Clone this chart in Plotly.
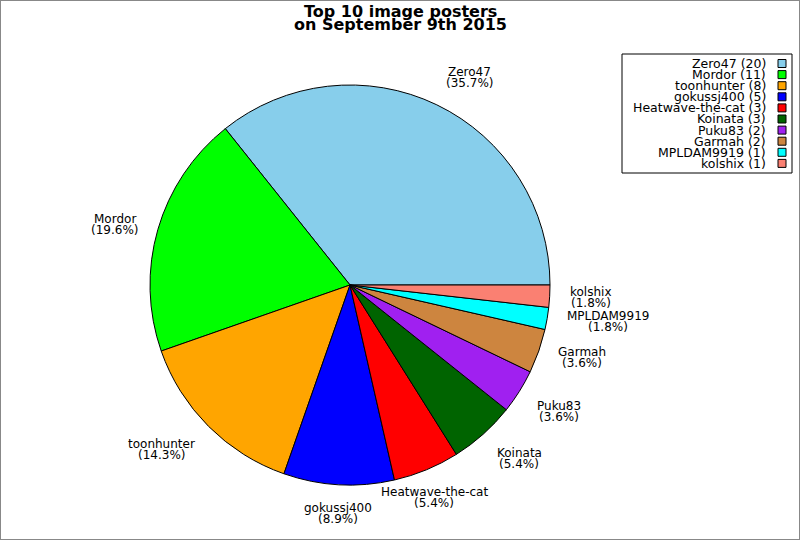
import math
import plotly.graph_objects as go

names = ["Zero47", "Mordor", "toonhunter", "gokussj400", "Heatwave-the-cat",
         "Koinata", "Puku83", "Garmah", "MPLDAM9919", "kolshix"]
counts = [20, 11, 8, 5, 3, 3, 2, 2, 1, 1]
colors = ["#87CEEB", "#00FF00", "#FFA500", "#0000FF", "#FF0000",
          "#006400", "#A020F0", "#CD853F", "#00FFFF", "#FA8072"]
title_lines = ["Top 10 image posters", "on September 9th 2015"]

W, H = 800, 540
CX, CY, R = 350, 285, 200
FONT = "DejaVu Sans"
LABEL_SIZE = 12
LEGEND_SIZE = 12.5
total = sum(counts)

# approximate DejaVu Sans advance widths (units per em = 2048), used to
# centre the two lines of each slice label within their block
_ADV = {" ": 651, "%": 1946, "(": 799, ")": 799, "-": 739, ".": 651,
        "A": 1401, "D": 1577, "G": 1606, "H": 1540, "K": 1343, "L": 1141,
        "M": 1767, "P": 1235, "Z": 1405, "a": 1255, "b": 1300, "c": 1126,
        "d": 1300, "e": 1260, "f": 721, "g": 1300, "h": 1298, "i": 569,
        "j": 569, "k": 1186, "l": 569, "m": 1995, "n": 1298, "o": 1253,
        "p": 1300, "r": 842, "s": 1067, "t": 803, "u": 1298, "v": 1212,
        "w": 1675, "x": 1212, "y": 1212, "z": 1075}


def text_width(s, size):
    return sum(_ADV.get(ch, 1303 if ch.isdigit() else 1250) for ch in s) / 2048 * size


# plotly: for counterclockwise pies, the first slice spans clockwise
# [rotation, rotation + share]; make it end at 3 o'clock.
rotation = 90 - 360 * counts[0] / total

fig = go.Figure(go.Pie(
    labels=names, values=counts, sort=False, direction="counterclockwise",
    rotation=rotation, textinfo="none", hoverinfo="label+value+percent",
    marker=dict(colors=colors, line=dict(color="black", width=1)),
    domain=dict(x=[(CX - R) / W, (CX + R) / W],
                y=[(H - CY - R) / H, (H - CY + R) / H]),
    showlegend=False,
))

# horizontal / vertical alignment of the label block per compass octant
OCT_HA = ["left", "left", "center", "right", "right", "right", "center", "left"]
OCT_VA = [0, -9.5, -9.5, -9.5, 0, 9, 9, 9]   # shift of block centre (px, down +)

annotations = []
cum = 0
for name, c in zip(names, counts):
    mid_deg = (cum + c / 2) / total * 360
    cum += c
    mid = math.radians(mid_deg)
    px = CX + 1.1 * R * math.cos(mid)
    py = CY - 1.1 * R * math.sin(mid)
    k = round(mid_deg / 45) % 8
    ha, voff = OCT_HA[k], OCT_VA[k]
    pct = f"({100 * c / total:.1f}%)"
    block_w = max(text_width(name, LABEL_SIZE), text_width(pct, LABEL_SIZE))
    if ha == "left":
        xc = px + block_w / 2
    elif ha == "right":
        xc = px - block_w / 2
    else:
        xc = px
    for dy, txt in ((-5.5, name), (5.5, pct)):
        annotations.append(dict(
            x=xc / W, y=1 - (py + voff + dy) / H, xref="paper", yref="paper",
            text=txt, showarrow=False, xanchor="center", yanchor="middle",
            font=dict(family=FONT, size=LABEL_SIZE, color="black")))

# title
for i, t in enumerate(title_lines):
    annotations.append(dict(
        x=0.5, y=1 - (11 + 14 * i) / H, xref="paper", yref="paper",
        text=f"<b>{t}</b>", showarrow=False, xanchor="center", yanchor="middle",
        font=dict(family=FONT, size=16, color="black")))

shapes = [
    dict(type="rect", xref="paper", yref="paper", x0=0, x1=1, y0=0, y1=1,
         line=dict(color="#888888", width=2), fillcolor="rgba(0,0,0,0)"),
    dict(type="rect", xref="paper", yref="paper",
         x0=622 / W, x1=792 / W, y0=1 - 173 / H, y1=1 - 54 / H,
         line=dict(color="black", width=1), fillcolor="white"),
]
for i, (name, c, col) in enumerate(zip(names, counts, colors)):
    yc = 63.5 + 11.1 * i
    annotations.append(dict(
        x=768 / W, y=1 - yc / H, xref="paper", yref="paper",
        text=f"{name} ({c})", showarrow=False, xanchor="right", yanchor="middle",
        font=dict(family=FONT, size=LEGEND_SIZE, color="black")))
    shapes.append(dict(
        type="rect", xref="paper", yref="paper",
        x0=778 / W, x1=786 / W, y0=1 - (yc + 4) / H, y1=1 - (yc - 4) / H,
        line=dict(color="black", width=1), fillcolor=col))

fig.update_layout(
    width=W, height=H, margin=dict(l=0, r=0, t=0, b=0),
    paper_bgcolor="white", plot_bgcolor="white",
    annotations=annotations, shapes=shapes,
    font=dict(family=FONT),
)
fig.write_html("out.html", config={"displayModeBar": False},
               post_script="document.body.style.margin='0';"
                           "document.body.style.overflow='hidden';")
